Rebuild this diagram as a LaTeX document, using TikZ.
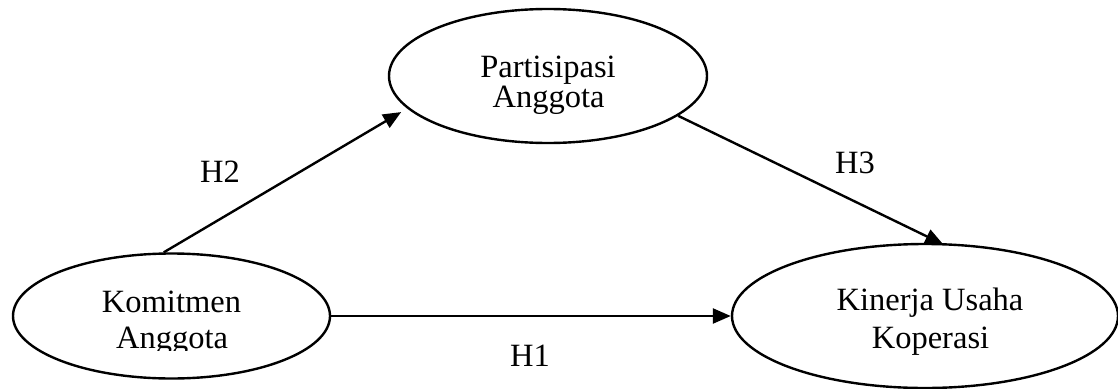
\documentclass[tikz,border=0pt]{standalone}
\usepackage{fontspec}
\setmainfont{Liberation Serif}
\usetikzlibrary{shapes.geometric,arrows.meta}
\tikzset{
  construct/.style={draw=black, line width=2.4pt, ellipse, inner sep=0pt},
  txt/.style={anchor=base, inner sep=0pt, font=\fontsize{32.5}{32.5}\selectfont},
  link/.style={draw=black, line width=2.4pt, -{Triangle[length=18pt,width=15pt]}}
}
\begin{document}
\begin{tikzpicture}[x=1pt,y=-1pt]
\useasboundingbox (0,0) rectangle (1118,388);
% constructs
\node[construct, minimum width=318pt, minimum height=134pt] (part) at (548,76) {};
\node[construct, minimum width=317pt, minimum height=125pt] (komit) at (171.5,316) {};
\node[construct, minimum width=386pt, minimum height=144pt] (kin) at (925,316) {};
% texts
\node[txt] (partA) at (548,77) {Partisipasi};
\node[txt] (partB) at (548.5,107) {Anggota};
\node[txt] (komitA) at (171.5,312) {Komitmen};
\begin{scope}
\clip (0,0) rectangle (1118,350.5);
\node[txt] (komitB) at (172,348) {Anggota};
\end{scope}
\node[txt] (kinA) at (930,310) {Kinerja Usaha};
\node[txt] (kinB) at (930.5,348) {Koperasi};
% connectors
\draw[link, shorten >=7pt] (komit.97.7) -- (part.193);
\draw[link, shorten >=-3pt] (part.343) -- (kin.78);
\draw[link] (komit.east) -- (kin.west);
% labels
\node[txt] (h2) at (220,182) {H2};
\node[txt] (h3) at (855,173) {H3};
\node[txt] (h1) at (530,366) {H1};
\end{tikzpicture}
\end{document}
